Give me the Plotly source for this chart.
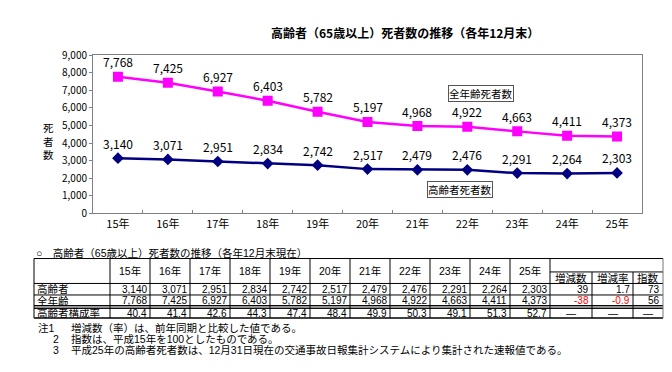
import plotly.graph_objects as go

# ---------------- data ----------------
years = ["15年", "16年", "17年", "18年", "19年", "20年", "21年", "22年", "23年", "24年", "25年"]
all_ages = [7768, 7425, 6927, 6403, 5782, 5197, 4968, 4922, 4663, 4411, 4373]
elderly = [3140, 3071, 2951, 2834, 2742, 2517, 2479, 2476, 2291, 2264, 2303]
elderly_share = [40.4, 41.4, 42.6, 44.3, 47.4, 48.4, 49.9, 50.3, 49.1, 51.3, 52.7]
change_headers = ["増減数", "増減率", "指数"]
elderly_change = [39, 1.7, 73]
all_change = [-38, -0.9, 56]
share_change = ["—", "—", "—"]
series_names = ["全年齢死者数", "高齢者死者数"]
row_labels = ["高齢者", "全年齢", "高齢者構成率"]
y_ticks = [0, 1000, 2000, 3000, 4000, 5000, 6000, 7000, 8000, 9000]
chart_title = "高齢者（65歳以上）死者数の推移（各年12月末）"
y_title = "死者数"
table_title = "○　高齢者（65歳以上）死者数の推移（各年12月末現在）"
note_marks = ["注1", "2", "3"]
notes = [
    "増減数（率）は、前年同期と比較した値である。",
    "指数は、平成15年を100としたものである。",
    "平成25年の高齢者死者数は、12月31日現在の交通事故日報集計システムにより集計された速報値である。",
]

# ---------------- layout helpers ----------------
W, H = 672, 372
FONT = "Noto Sans CJK JP"
TFONT = "Liberation Sans, Noto Sans CJK JP"
PINK = "#FF00FF"
NAVY = "#000080"


def X(px):
    return px / W


def Y(py):
    return 1 - py / H


fig = go.Figure()

fig.add_trace(go.Scatter(
    x=years, y=all_ages, mode="lines+markers",
    name=series_names[0],
    line=dict(color=PINK, width=2.5),
    marker=dict(symbol="square", size=10, color=PINK),
))
fig.add_trace(go.Scatter(
    x=years, y=elderly, mode="lines+markers",
    name=series_names[1],
    line=dict(color=NAVY, width=2.5),
    marker=dict(symbol="diamond", size=9, color=NAVY),
))

annotations = []
shapes = []

# data labels, placed through the data axes
for series in (all_ages, elderly):
    for cat, v in zip(years, series):
        annotations.append(dict(x=cat, y=v, xref="x", yref="y", text=f"{v:,}", showarrow=False,
                                yshift=15, xanchor="center", yanchor="middle", borderpad=0,
                                font=dict(family=FONT, size=12, color="#000")))

# chart title
annotations.append(dict(x=X(405), y=Y(25), xref="paper", yref="paper", text=f"<b>{chart_title}</b>",
                        showarrow=False, font=dict(family=FONT, size=12, color="#000"),
                        xanchor="center", yanchor="middle"))
# y title (stacked characters)
annotations.append(dict(x=X(48), y=Y(138), xref="paper", yref="paper", text="<br>".join(y_title),
                        showarrow=False, font=dict(family=TFONT, size=10.5, color="#000"),
                        xanchor="center", yanchor="middle", borderpad=0))
# legend-like labels
annotations.append(dict(x=X(481), y=Y(88), xref="paper", yref="paper", text=series_names[0],
                        showarrow=False, font=dict(family=FONT, size=10.5, color="#000"),
                        bordercolor="#555", borderwidth=1, borderpad=0, bgcolor="#fff",
                        xanchor="center", yanchor="middle"))
annotations.append(dict(x=X(460), y=Y(188), xref="paper", yref="paper", text=series_names[1],
                        showarrow=False, font=dict(family=FONT, size=10.5, color="#000"),
                        bordercolor="#555", borderwidth=1, borderpad=0, bgcolor="#fff",
                        xanchor="center", yanchor="middle"))

# ---------------- table ----------------
T_LEFT, LABEL_R, COL_W = 34, 110, 40
EXTRA_R = [592, 633, 663]
T_TOP, SUB_TOP, HEAD_B = 260, 274, 286
ROW_TOPS = [286, 298, 312]
ROW_BOTS = [298, 309, 322]
T_RIGHT = EXTRA_R[-1]
YEAR_END = LABEL_R + COL_W * len(years)


def hline(y, x0, x1, color="#000", width=1):
    shapes.append(dict(type="line", xref="paper", yref="paper", x0=X(x0), x1=X(x1), y0=Y(y), y1=Y(y),
                       line=dict(color=color, width=width)))


def vline(x, y0, y1, color="#000", width=1):
    shapes.append(dict(type="line", xref="paper", yref="paper", x0=X(x), x1=X(x), y0=Y(y0), y1=Y(y1),
                       line=dict(color=color, width=width)))


def cell_text(x, y, text, anchor="right", color="#000", size=10):
    annotations.append(dict(x=X(x), y=Y(y), xref="paper", yref="paper", text=text, showarrow=False,
                            font=dict(family=TFONT, size=size, color=color), xanchor=anchor,
                            yanchor="middle", borderpad=0))


annotations.append(dict(x=X(35), y=Y(254), xref="paper", yref="paper", text=table_title, showarrow=False,
                        font=dict(family=TFONT, size=10.5, color="#000"), xanchor="left", yanchor="middle",
                        borderpad=0))

# horizontal lines
hline(T_TOP, T_LEFT, T_RIGHT)
hline(SUB_TOP, YEAR_END, T_RIGHT)
hline(HEAD_B, T_LEFT, T_RIGHT)
hline(ROW_BOTS[0], T_LEFT, T_RIGHT)
hline(ROW_BOTS[1], T_LEFT, T_RIGHT)
shapes.append(dict(type="rect", xref="paper", yref="paper", x0=X(T_LEFT), x1=X(T_RIGHT),
                   y0=Y(ROW_BOTS[1] + 0.5), y1=Y(ROW_TOPS[2]), line=dict(width=0), fillcolor="#9a9a9a"))
hline(ROW_TOPS[2], T_LEFT, T_RIGHT)
hline(ROW_BOTS[2], T_LEFT, T_RIGHT, color="#000", width=1.5)
# vertical lines
vline(T_LEFT, T_TOP, ROW_BOTS[2])
vline(LABEL_R, T_TOP, ROW_BOTS[2])
for i in range(1, len(years) + 1):
    vline(LABEL_R + COL_W * i, T_TOP, ROW_BOTS[2])
for xr in EXTRA_R[:-1]:
    vline(xr, SUB_TOP, ROW_BOTS[2])
vline(T_RIGHT, T_TOP, ROW_BOTS[2], color="#777")

# header
for i, yr in enumerate(years):
    cell_text(LABEL_R + COL_W * i + COL_W / 2, 273, yr, anchor="center", size=10.5)
extra_left = [YEAR_END] + EXTRA_R[:-1]
for h, l, r in zip(change_headers, extra_left, EXTRA_R):
    cell_text((l + r) / 2, 280.5, h, anchor="center", size=10.5)

row_mid = [(t + b) / 2 for t, b in zip(ROW_TOPS, ROW_BOTS)]
label_mid = [row_mid[0] - 0.6, row_mid[1] + 0.4, row_mid[2]]
for lbl, ym in zip(row_labels, label_mid):
    cell_text(T_LEFT + 2, ym, lbl, anchor="left", size=10.5)

rows = [[f"{v:,}" for v in elderly], [f"{v:,}" for v in all_ages], [f"{v:.1f}" for v in elderly_share]]
for r, ym in zip(rows, row_mid):
    for i, s in enumerate(r):
        cell_text(LABEL_R + COL_W * (i + 1) - 2, ym, s)

for j, (l, r) in enumerate(zip(extra_left, EXTRA_R)):
    v = elderly_change[j]
    cell_text(r - 2, row_mid[0], str(v), color="#FF0000" if v < 0 else "#000")
    v = all_change[j]
    cell_text(r - 2, row_mid[1], str(v), color="#FF0000" if v < 0 else "#000")
    cell_text((l + r) / 2, row_mid[2], share_change[j], anchor="center")

# notes
note_y = [332, 343.5, 355]
note_x = [37, 52, 52]
for m, n, ny, nx in zip(note_marks, notes, note_y, note_x):
    cell_text(nx, ny, m, anchor="left", size=10.5)
    cell_text(70, ny, n, anchor="left", size=10.5)

fig.update_layout(
    width=W, height=H,
    margin=dict(l=0, r=0, t=0, b=0),
    paper_bgcolor="#fff", plot_bgcolor="#fff",
    showlegend=False,
    xaxis=dict(domain=[X(93), X(642)], type="category", range=[-0.5, len(years) - 0.5],
               showline=True, linecolor="#808080", linewidth=1, mirror=True,
               ticks="inside", tickson="boundaries", ticklen=3, tickcolor="#808080",
               showgrid=False, tickfont=dict(family=FONT, size=11, color="#000")),
    yaxis=dict(domain=[Y(213), Y(48)], range=[0, 9000], tickvals=y_ticks, tickformat=",",
               showline=True, linecolor="#808080", linewidth=1, mirror=True,
               ticks="outside", ticklen=3, tickcolor="#808080",
               showgrid=False, zeroline=False, tickfont=dict(family=FONT, size=10, color="#000")),
    annotations=annotations,
    shapes=shapes,
)

fig.write_html("out.html", config={"displayModeBar": False},
               post_script="document.body.style.margin='0';document.body.style.overflow='hidden';")
